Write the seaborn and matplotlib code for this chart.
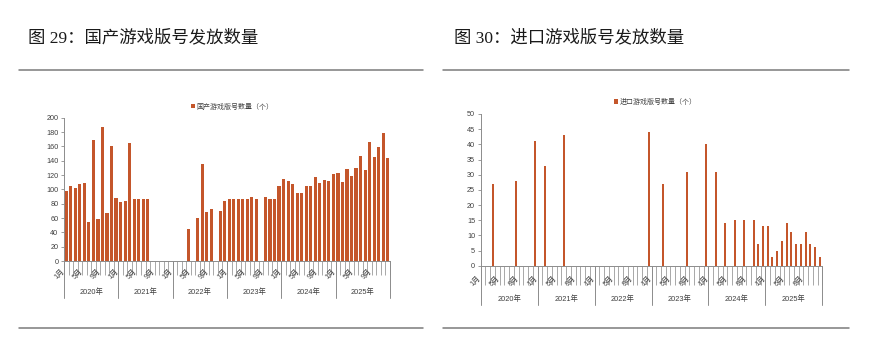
import numpy as np
import pandas as pd
import matplotlib
matplotlib.use("Agg")
import matplotlib.pyplot as plt
import matplotlib.transforms as mtransforms
from matplotlib.lines import Line2D
import seaborn as sns

# ---- data -------------------------------------------------------------
years = ["2020年", "2021年", "2022年", "2023年", "2024年", "2025年"]
month_names = ["1月", "2月", "3月", "4月", "5月", "6月",
               "7月", "8月", "9月", "10月", "11月", "12月"]
shown_months = ["1月", "5月", "9月"]

# domestic game licences per month (0 = no batch that month)
domestic_2020 = [98, 105, 102, 108, 109, 55, 169, 58, 187, 67, 161, 88]
domestic_2021 = [82, 84, 165, 87, 87, 87, 87, 0, 0, 0, 0, 0]
domestic_2022 = [0, 0, 0, 45, 0, 60, 135, 69, 73, 0, 70, 84]
domestic_2023 = [87, 87, 86, 86, 86, 89, 87, 0, 89, 87, 87, 105]
domestic_2024 = [115, 111, 107, 95, 95, 104, 105, 117, 109, 113, 112, 122]
domestic_2025 = [123, 110, 129, 119, 130, 147, 127, 166, 145, 159, 178, 144]

# imported game licences per month
imported_2020 = [0, 0, 27, 0, 0, 0, 0, 28, 0, 0, 0, 41]
imported_2021 = [0, 33, 0, 0, 0, 43, 0, 0, 0, 0, 0, 0]
imported_2022 = [0, 0, 0, 0, 0, 0, 0, 0, 0, 0, 0, 44]
imported_2023 = [0, 0, 27, 0, 0, 0, 0, 31, 0, 0, 0, 40]
imported_2024 = [0, 31, 0, 14, 0, 15, 0, 15, 0, 15, 7, 13]
imported_2025 = [13, 3, 5, 8, 14, 11, 7, 7, 11, 7, 6, 3]

domestic = (domestic_2020 + domestic_2021 + domestic_2022 +
            domestic_2023 + domestic_2024 + domestic_2025)
imported = (imported_2020 + imported_2021 + imported_2022 +
            imported_2023 + imported_2024 + imported_2025)

periods = [y + m for y in years for m in month_names]
period_month = [m for y in years for m in month_names]

BAR = "#C4562B"
AXIS = "#8c8c8c"
TEXT = "#404040"

sns.set_style("white")
plt.rcParams["font.family"] = ["Liberation Sans", "Noto Sans CJK SC"]
plt.rcParams["axes.unicode_minus"] = False

W, H = 894, 337
fig = plt.figure(figsize=(W / 100, H / 100), dpi=100)


def px_axes(x0, x1, y_top, y_bot):
    return fig.add_axes([x0 / W, 1 - y_bot / H, (x1 - x0) / W, (y_bot - y_top) / H])


def draw_panel(ax, values, label, width, ymax, ystep, legend_xy,
               month_y, year_y, sep_y, tick_len):
    df = pd.DataFrame({"月份": periods, "数量": values})
    sns.barplot(data=df, x="月份", y="数量", order=periods, color=BAR,
                saturation=1, width=width, errorbar=None, ax=ax,
                label=label, linewidth=0)
    ax.set_xlim(-0.5, len(periods) - 0.5)
    ax.set_ylim(0, ymax)
    ax.set_xlabel("")
    ax.set_ylabel("")
    ax.set_yticks(np.arange(0, ymax + 0.1, ystep))
    ax.set_yticklabels([f"{v:g}" for v in np.arange(0, ymax + 0.1, ystep)])
    ax.set_xticks(np.arange(-0.5, len(periods), 1))
    ax.set_xticklabels([])
    ax.tick_params(axis="x", bottom=True, length=tick_len, width=0.6,
                   color="#9a9a9a", direction="out")
    ax.tick_params(axis="y", left=True, length=2.5, width=0.6, color=AXIS,
                   labelsize=5.2, labelcolor=TEXT, pad=1.5, direction="out")
    for s in ("top", "right"):
        ax.spines[s].set_visible(False)
    for s in ("left", "bottom"):
        ax.spines[s].set_color(AXIS)
        ax.spines[s].set_linewidth(0.7)

    trans = mtransforms.blended_transform_factory(ax.transData, ax.transAxes)
    for i, m in enumerate(period_month):
        if m in shown_months:
            ax.text(i - 0.1, month_y, m, rotation=45, ha="right", va="top",
                    fontsize=5.2, color=TEXT, transform=trans)
    for k, y in enumerate(years):
        ax.text(12 * k + 5.5, year_y, y, ha="center", va="center",
                fontsize=5.3, color=TEXT, transform=trans)
    for k in range(len(years) + 1):
        ax.plot([12 * k - 0.5, 12 * k - 0.5], [0, sep_y], color=AXIS,
                lw=0.7, transform=trans, clip_on=False)

    handles, labels = ax.get_legend_handles_labels()
    ax.legend(handles[:1], labels[:1], loc="center left",
              bbox_to_anchor=(legend_xy[0] / W, 1 - legend_xy[1] / H),
              bbox_transform=fig.transFigure, frameon=False, fontsize=5,
              handlelength=0.6, handleheight=0.6, handletextpad=0.2,
              borderpad=0, borderaxespad=0, labelcolor=TEXT)


ax1 = px_axes(64, 390, 117.7, 261)
draw_panel(ax1, domestic, "国产游戏版号数量（个）", 0.7, 200, 20,
           (191, 107), -0.05, -0.216, -0.258, 10)

ax2 = px_axes(480.7, 822.3, 114, 265.7)
draw_panel(ax2, imported, "进口游戏版号数量（个）", 0.42, 50, 5,
           (614, 102.5), -0.06, -0.22, -0.259, 14)

# titles and rules
title_font = ["Liberation Serif", "Noto Sans CJK SC"]
fig.text(28 / W, 1 - 37.5 / H, "图 29：国产游戏版号发放数量", fontsize=12.5,
         family=title_font, color="#1a1a1a", va="center", ha="left")
fig.text(454 / W, 1 - 37.5 / H, "图 30：进口游戏版号发放数量", fontsize=12.5,
         family=title_font, color="#1a1a1a", va="center", ha="left")

for (x0, x1) in ((19, 423), (443, 849)):
    for y in (70, 328):
        fig.add_artist(Line2D([x0 / W, x1 / W], [1 - y / H, 1 - y / H],
                              color="#7a7a7a", lw=1.1,
                              transform=fig.transFigure))

fig.savefig("out.png", dpi=100)
